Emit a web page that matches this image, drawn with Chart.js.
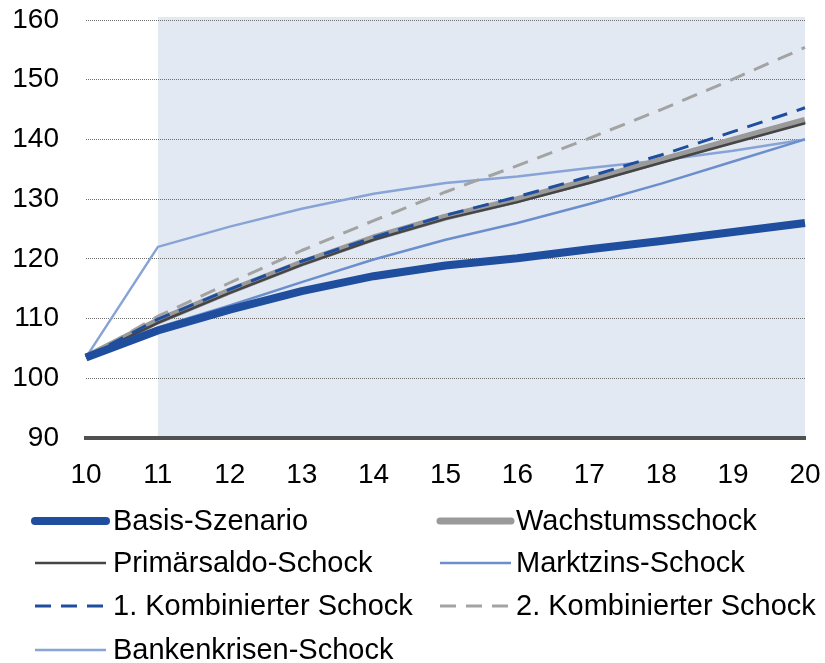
<!DOCTYPE html>
<html>
<head>
<meta charset="utf-8">
<script src="https://cdn.jsdelivr.net/npm/chart.js@4.4.1/dist/chart.umd.min.js"></script>
<style>
html,body{margin:0;padding:0;background:#fff;}
#wrap{width:825px;height:663px;position:relative;}
</style>
</head>
<body>
<div id="wrap"><canvas id="c" width="825" height="663"></canvas></div>
<script>
const years = ['10','11','12','13','14','15','16','17','18','19','20'];
const yTicks = [90,100,110,120,130,140,150,160];
const basis       = [103.5,108.0,111.5,114.6,117.1,118.9,120.1,121.6,123.0,124.5,126.0];
const wachstum    = [103.5,109.6,114.6,119.3,123.5,127.0,129.9,133.1,136.5,139.9,143.2];
const primaer     = [103.5,109.3,114.3,119.0,123.2,126.7,129.5,132.7,136.1,139.4,142.7];
const marktzins   = [103.5,108.5,112.2,116.1,119.9,123.2,126.0,129.2,132.6,136.3,140.0];
const komb1       = [103.5,109.9,114.9,119.6,123.6,127.3,130.4,133.8,137.4,141.3,145.3];
const komb2       = [103.5,110.4,116.0,121.4,126.4,131.2,135.6,140.2,145.0,150.1,155.4];
const bankenkrise = [103.5,122.0,125.4,128.4,130.9,132.7,133.8,135.2,136.5,138.1,140.0];

const names = ['Basis-Szenario','Wachstumsschock','Primärsaldo-Schock','Marktzins-Schock','1. Kombinierter Schock','2. Kombinierter Schock','Bankenkrisen-Schock'];

const FONT = '"Liberation Sans", Arial, sans-serif';

const shade = {
  id:'shade',
  beforeDraw(chart){
    const {ctx, chartArea:a, scales:{x}} = chart;
    ctx.save();
    ctx.fillStyle = '#e3e9f3';
    const x0 = x.getPixelForValue(1);
    ctx.fillRect(x0, a.top-3, a.right - x0, a.bottom - a.top + 3);
    ctx.restore();
  }
};

const legendPlugin = {
  id:'customLegend',
  afterDraw(chart){
    const ctx = chart.ctx;
    const rows = [521,563,606,650];
    const cols = [{x0:35,x1:106,tx:113},{x0:440,x1:511,tx:516}];
    ctx.save();
    chart.data.datasets.forEach((ds,i)=>{
      const r = Math.floor(i/2), c = i%2;
      const y = rows[r], col = cols[c];
      ctx.beginPath();
      ctx.strokeStyle = ds.borderColor;
      ctx.lineWidth = ds.borderWidth;
      ctx.lineCap = ds.borderWidth > 4 ? 'round' : 'butt';
      ctx.setLineDash(ds.borderDash || []);
      ctx.moveTo(col.x0, y); ctx.lineTo(col.x1, y);
      ctx.stroke();
      ctx.setLineDash([]);
      ctx.fillStyle = '#000';
      ctx.font = '29px ' + FONT;
      ctx.textBaseline = 'middle';
      ctx.textAlign = 'left';
      ctx.fillText(ds.label, col.tx, y+1);
    });
    ctx.restore();
  }
};

const mk = (label, data, color, width, dash, order) => ({
  label, data, borderColor: color, backgroundColor: color, borderWidth: width,
  borderDash: dash, pointRadius: 0, tension: 0, fill: false, order,
  borderCapStyle: 'butt', borderJoinStyle: 'round'
});

new Chart(document.getElementById('c'), {
  type: 'line',
  data: {
    labels: years,
    datasets: [
      mk(names[0], basis, '#1f4e9f', 8, [], 1),
      mk(names[1], wachstum, '#9a9a9a', 7, [], 6),
      mk(names[2], primaer, '#454545', 2.5, [], 5),
      mk(names[3], marktzins, '#6b8fcc', 2.5, [], 3),
      mk(names[4], komb1, '#1f4e9f', 3, [16,10], 2),
      mk(names[5], komb2, '#a3a3a3', 3, [16,10], 4),
      mk(names[6], bankenkrise, '#88a4d6', 2.5, [], 7)
    ]
  },
  options: {
    responsive: false,
    animation: false,
    devicePixelRatio: 1,
    layout: { padding: { top: 20, right: 20, bottom: 175, left: 0 } },
    plugins: { legend: { display: false }, tooltip: { enabled: false } },
    scales: {
      x: {
        type: 'category',
        offset: false,
        grid: { display: false, drawTicks: false },
        border: { display: true, color: '#505050', width: 4 },
        ticks: { color: '#000', font: { size: 28, family: FONT }, padding: 20, maxRotation: 0, autoSkip: false },
        afterFit(s){ s.height = 50; s.paddingLeft = 0; s.paddingRight = 0; }
      },
      y: {
        min: 90, max: 160,
        afterBuildTicks(s){ s.ticks = yTicks.map(v=>({value:v})); },
        grid: { color: '#6e6e6e', lineWidth: 1, drawTicks: false },
        border: { display: false, dash: [1,1] },
        ticks: { color: '#000', font: { size: 28, family: FONT }, padding: 27 },
        afterFit(s){ s.width = 86; s.paddingTop = 0; s.paddingBottom = 0; }
      }
    }
  },
  plugins: [shade, legendPlugin]
});
</script>
</body>
</html>
